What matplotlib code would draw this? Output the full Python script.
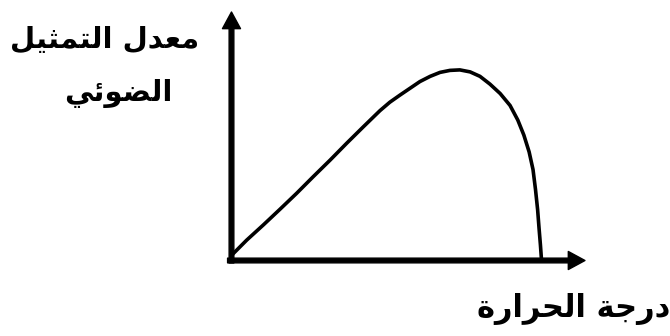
import matplotlib
matplotlib.use("Agg")
import matplotlib.pyplot as plt

# schematic: rate of photosynthesis vs temperature (arbitrary units)
temperature = [0.01, 0.43, 0.90, 1.37, 1.84, 2.31, 2.79, 3.26, 3.73, 4.20,
               4.48, 4.77, 5.05, 5.33, 5.62, 5.90, 6.18, 6.46, 6.75, 7.03,
               7.31, 7.60, 7.88, 8.10, 8.27, 8.42, 8.53, 8.60, 8.66, 8.70,
               8.74, 8.77]
rate = [0.22, 0.82, 1.43, 2.06, 2.70, 3.37, 4.04, 4.72, 5.38, 6.03,
        6.37, 6.66, 6.93, 7.20, 7.41, 7.57, 7.65, 7.67, 7.59, 7.41,
        7.10, 6.72, 6.24, 5.65, 5.05, 4.37, 3.66, 2.86, 2.05, 1.31,
        0.62, 0.02]

ylabel_lines = ["معدل التمثيل", "الضوئي"]
xlabel = "درجة الحرارة"

# presentation forms: isolated, final, initial, medial
FORMS = {
    "ا": ("\ufe8d", "\ufe8e"),
    "ت": ("\ufe95", "\ufe96", "\ufe97", "\ufe98"),
    "ث": ("\ufe99", "\ufe9a", "\ufe9b", "\ufe9c"),
    "ج": ("\ufe9d", "\ufe9e", "\ufe9f", "\ufea0"),
    "ح": ("\ufea1", "\ufea2", "\ufea3", "\ufea4"),
    "د": ("\ufea9", "\ufeaa"),
    "ر": ("\ufead", "\ufeae"),
    "ض": ("\ufebd", "\ufebe", "\ufebf", "\ufec0"),
    "ع": ("\ufec9", "\ufeca", "\ufecb", "\ufecc"),
    "ل": ("\ufedd", "\ufede", "\ufedf", "\ufee0"),
    "م": ("\ufee1", "\ufee2", "\ufee3", "\ufee4"),
    "و": ("\ufeed", "\ufeee"),
    "ي": ("\ufef1", "\ufef2", "\ufef3", "\ufef4"),
    "ئ": ("\ufe89", "\ufe8a", "\ufe8b", "\ufe8c"),
    "ة": ("\ufe93", "\ufe94"),
}


def shape(text):
    # matplotlib has no arabic shaping, so pick the joined forms by hand
    out = []
    for i, c in enumerate(text):
        if c not in FORMS:
            out.append(c)
            continue
        prev = text[i - 1] if i > 0 else ""
        nxt = text[i + 1] if i + 1 < len(text) else ""
        join_prev = prev in FORMS and len(FORMS[prev]) == 4
        join_next = len(FORMS[c]) == 4 and nxt in FORMS
        f = FORMS[c]
        if join_prev and join_next:
            out.append(f[3])
        elif join_prev:
            out.append(f[1])
        elif join_next:
            out.append(f[2])
        else:
            out.append(f[0])
    return "".join(out)[::-1]


fig = plt.figure(figsize=(6.7, 3.36), dpi=100)
ax = fig.add_axes([0.3455, 0.2247, 0.5276, 0.7396])
ax.set_xlim(0, 10)
ax.set_ylim(0, 10)
ax.axis("off")

ax.plot(temperature, rate, color="black", lw=2.6, solid_capstyle="round",
        solid_joinstyle="round")

arrow = dict(facecolor="black", edgecolor="black", width=3.4,
             headwidth=13, headlength=12, shrink=0)
ax.annotate("", xy=(1, 0), xytext=(-0.011, 0), xycoords="axes fraction",
            arrowprops=arrow, annotation_clip=False)
ax.annotate("", xy=(0, 1), xytext=(0, -0.01), xycoords="axes fraction",
            arrowprops=arrow, annotation_clip=False)

font = ["DejaVu Sans"]
fig.text(105 / 670, 1 - 40 / 336, shape(ylabel_lines[0]), ha="center",
         va="center", fontsize=21, fontweight="bold", family=font)
fig.text(118 / 670, 1 - 94 / 336, shape(ylabel_lines[1]), ha="center",
         va="center", fontsize=21, fontweight="bold", family=font)
fig.text(1.0, 1 - 309 / 336, shape(xlabel), ha="right", va="center",
         fontsize=22, fontweight="bold", family=font)

fig.savefig("out.png", dpi=100)
